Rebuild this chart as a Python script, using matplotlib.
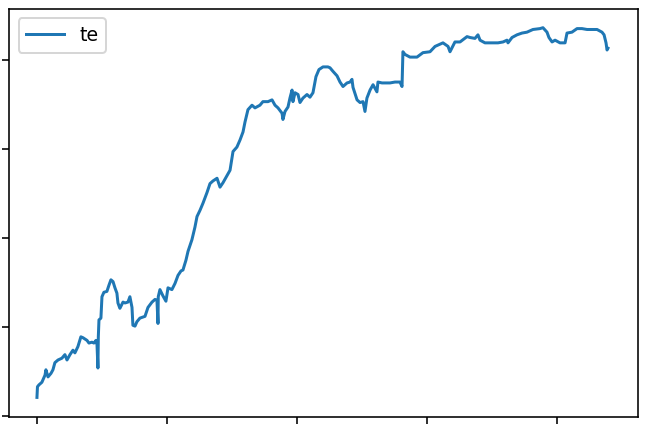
import matplotlib
matplotlib.use("Agg")
import matplotlib.pyplot as plt

# шаги и значения
steps = [0, 4, 15, 38, 62, 69, 85, 108, 123, 138, 162, 192, 215, 231, 254, 277, 292, 315,
         338, 354, 385, 400, 423, 438, 454, 462, 469, 472, 477, 492, 500, 515, 538, 554,
         569, 585, 600, 615, 623, 638, 662, 677, 700, 715, 731, 738, 754, 769, 792, 831,
         854, 885, 908, 923, 931, 933, 946, 969, 992, 1008, 1038, 1062, 1085, 1108, 1123,
         1146, 1162, 1192, 1215, 1231, 1254, 1277, 1308, 1331, 1354, 1385, 1408, 1431,
         1462, 1485, 1508, 1538, 1562, 1585, 1600, 1623, 1654, 1677, 1715, 1738, 1777,
         1808, 1831, 1854, 1885, 1892, 1908, 1931, 1946, 1962, 1969, 1985, 2008, 2023,
         2046, 2077, 2100, 2123, 2146, 2169, 2200, 2238, 2254, 2277, 2308, 2331, 2354,
         2385, 2408, 2423, 2431, 2462, 2485, 2508, 2523, 2538, 2562, 2585, 2615, 2623,
         2654, 2677, 2715, 2754, 2792, 2808, 2815, 2831, 2869, 2923, 2969, 3023, 3062,
         3123, 3162, 3177, 3215, 3254, 3308, 3331, 3369, 3392, 3408, 3446, 3500, 3546,
         3585, 3615, 3623, 3654, 3692, 3731, 3769, 3815, 3869, 3892, 3923, 3938, 3962,
         3985, 4023, 4062, 4077, 4115, 4154, 4192, 4231, 4269, 4308, 4346, 4362, 4377,
         4385, 4392]
te = [0.21, 0.33, 0.35, 0.38, 0.46, 0.52, 0.44, 0.48, 0.52, 0.60, 0.63, 0.65, 0.69, 0.63,
      0.69, 0.74, 0.71, 0.78, 0.89, 0.88, 0.85, 0.82, 0.83, 0.82, 0.85, 0.80, 0.54, 0.89,
      1.08, 1.10, 1.34, 1.39, 1.40, 1.47, 1.53, 1.51, 1.44, 1.38, 1.27, 1.21, 1.28, 1.27,
      1.28, 1.34, 1.22, 1.02, 1.01, 1.06, 1.10, 1.12, 1.22, 1.28, 1.31, 1.30, 1.04, 1.34,
      1.42, 1.35, 1.29, 1.44, 1.42, 1.49, 1.58, 1.63, 1.64, 1.75, 1.85, 1.98, 2.12, 2.24,
      2.31, 2.39, 2.51, 2.61, 2.64, 2.67, 2.57, 2.62, 2.70, 2.76, 2.97, 3.02, 3.10, 3.19,
      3.30, 3.44, 3.49, 3.46, 3.49, 3.53, 3.53, 3.55, 3.49, 3.46, 3.40, 3.33, 3.42, 3.47,
      3.57, 3.66, 3.53, 3.63, 3.61, 3.52, 3.57, 3.61, 3.58, 3.63, 3.81, 3.89, 3.92, 3.92,
      3.91, 3.87, 3.82, 3.75, 3.70, 3.74, 3.75, 3.78, 3.69, 3.55, 3.52, 3.53, 3.42, 3.57,
      3.66, 3.72, 3.64, 3.75, 3.74, 3.74, 3.74, 3.75, 3.75, 3.70, 4.09, 4.06, 4.03, 4.03,
      4.08, 4.09, 4.15, 4.19, 4.15, 4.09, 4.20, 4.20, 4.26, 4.25, 4.24, 4.28, 4.22, 4.19,
      4.19, 4.19, 4.20, 4.22, 4.19, 4.25, 4.28, 4.30, 4.31, 4.34, 4.35, 4.36, 4.31, 4.25,
      4.20, 4.22, 4.19, 4.19, 4.30, 4.31, 4.35, 4.35, 4.34, 4.34, 4.34, 4.31, 4.28, 4.19,
      4.11, 4.13]

x_ticks = [0, 1000, 2000, 3000, 4000]
y_ticks = [0, 1, 2, 3, 4]

fig = plt.figure(figsize=(647 / 144, 428 / 144), dpi=144)
ax = fig.add_axes([9 / 647, 11 / 428, 629 / 647, 408 / 428])
ax.plot(steps, te, label='te')
ax.set_xlim(-215, 4623)
ax.set_ylim(-0.01, 4.57)
ax.set_xticks(x_ticks)
ax.set_yticks(y_ticks)
ax.set_xticklabels([])
ax.set_yticklabels([])
ax.legend(loc='upper left', fontsize=9.5)

fig.savefig('out.png', dpi=144)
